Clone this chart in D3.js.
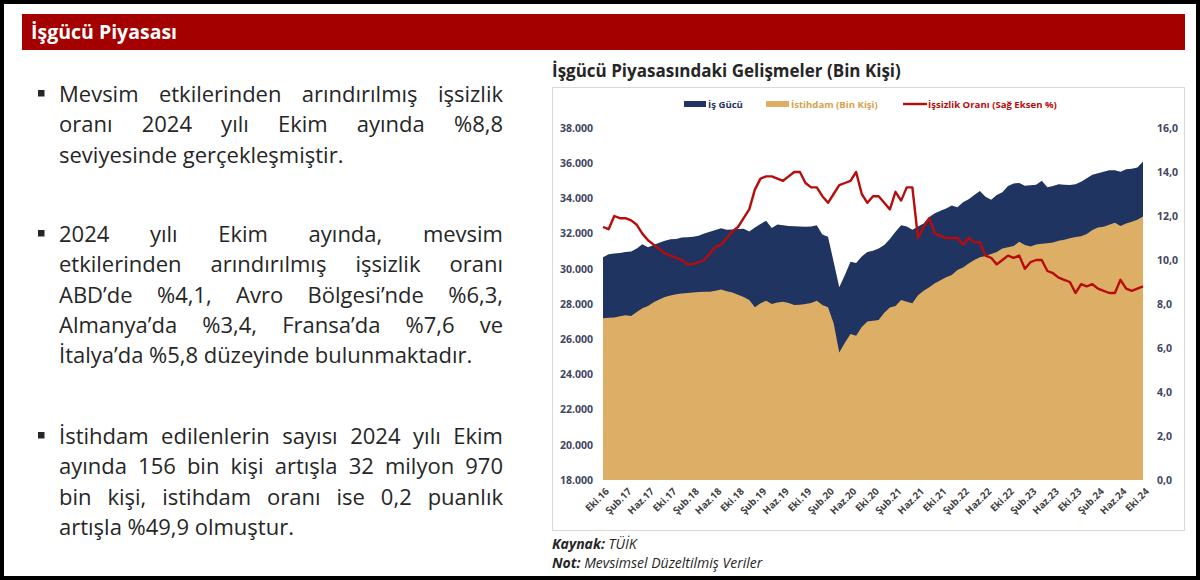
<!DOCTYPE html>
<html>
<head>
<meta charset="utf-8">
<title>İşgücü Piyasası</title>
<script src="https://d3js.org/d3.v7.min.js"></script>
<style>
  body { margin: 0; background: #fff; }
  svg { display: block; }
</style>
</head>
<body>
<div id="canvas"></div>
<script>
// aylık veriler: Eki.16 - Eki.24 (97 ay)
var tickLabels = ["Eki.16","Şub.17","Haz.17","Eki.17","Şub.18","Haz.18","Eki.18","Şub.19","Haz.19","Eki.19",
  "Şub.20","Haz.20","Eki.20","Şub.21","Haz.21","Eki.21","Şub.22","Haz.22","Eki.22","Şub.23","Haz.23",
  "Eki.23","Şub.24","Haz.24","Eki.24"];

// İş Gücü (bin kişi)
var isgucu = [30650,30830,30870,30900,30950,30980,31150,31400,31220,31350,
  31480,31600,31680,31700,31780,31790,31820,31880,32000,32100,
  32200,32300,32220,32240,32260,32280,32120,32350,32550,32730,
  32320,32520,32480,32430,32420,32400,32390,32400,32480,31950,
  31820,30400,28950,29650,30400,30330,30700,30950,31030,31150,
  31350,31700,32100,32480,32400,32220,32400,32580,32950,33150,
  33300,33420,33600,33500,33780,33950,34200,34420,34100,33920,
  34190,34350,34700,34850,34880,34720,34750,34770,35000,34640,
  34700,34800,34780,34760,34800,34950,35140,35340,35430,35520,
  35600,35600,35520,35650,35680,35750,36100];

// İstihdam (bin kişi)
var istihdam = [27190,27220,27240,27300,27360,27320,27550,27760,27880,28100,
  28250,28400,28480,28550,28600,28620,28660,28680,28690,28700,
  28750,28830,28720,28650,28520,28400,28230,27810,28040,28190,
  28000,28080,28130,28050,27950,27960,28000,28050,28190,27950,
  27820,26900,25250,25800,26300,26200,26700,27000,27050,27090,
  27500,27800,27880,28230,28130,28040,28500,28750,28950,29180,
  29350,29520,29650,29930,30080,30300,30500,30650,30730,30840,
  30950,31160,31230,31300,31540,31350,31260,31380,31420,31450,
  31490,31600,31650,31730,31800,31850,31980,32200,32350,32390,
  32500,32620,32430,32580,32680,32780,32970];

// İşsizlik oranı (%)
var issizlik = [11.5,11.4,12.0,11.9,11.9,11.8,11.6,11.2,10.9,10.7,
  10.5,10.3,10.2,10.1,10.0,9.8,9.8,9.9,10.0,10.3,
  10.6,10.7,11.0,11.3,11.5,11.9,12.3,13.2,13.7,13.8,
  13.8,13.7,13.6,13.8,14.0,14.0,13.5,13.3,13.3,12.9,
  12.6,13.0,13.4,13.5,13.6,14.0,13.0,12.6,12.9,12.9,
  12.6,12.3,13.1,12.7,13.3,13.3,11.0,11.5,11.9,11.2,
  11.1,11.0,11.0,11.0,10.7,11.0,10.8,10.8,10.2,10.1,
  9.8,10.0,10.2,10.1,10.2,9.6,9.9,10.0,10.0,9.5,
  9.4,9.2,9.1,9.0,8.5,8.9,8.8,8.9,8.7,8.6,
  8.5,8.5,9.1,8.7,8.6,8.7,8.8];

var leftTicks = [18000,20000,22000,24000,26000,28000,30000,32000,34000,36000,38000];
var rightTicks = [0,2,4,6,8,10,12,14,16];

var paragraphs = [
  ["Mevsim etkilerinden arındırılmış işsizlik",
   "oranı 2024 yılı Ekim ayında %8,8",
   "seviyesinde gerçekleşmiştir."],
  ["2024 yılı Ekim ayında, mevsim",
   "etkilerinden arındırılmış işsizlik oranı",
   "ABD’de %4,1, Avro Bölgesi’nde %6,3,",
   "Almanya’da %3,4, Fransa’da %7,6 ve",
   "İtalya’da %5,8 düzeyinde bulunmaktadır."],
  ["İstihdam edilenlerin sayısı 2024 yılı Ekim",
   "ayında 156 bin kişi artışla 32 milyon 970",
   "bin kişi, istihdam oranı ise 0,2 puanlık",
   "artışla %49,9 olmuştur."]
];

var W = 1200, H = 580;
var navy = "#1f3461", gold = "#dcae66", red = "#b80b0b";
var font = "'Open Sans', 'Noto Sans', sans-serif";

var tr = d3.formatLocale({decimal: ",", thousands: ".", grouping: [3], currency: ["", ""]});
var fmtL = tr.format(",.0f"), fmtR = tr.format(".1f");

var svg = d3.select("#canvas").append("svg")
  .attr("width", W).attr("height", H)
  .style("font-family", font);

svg.append("rect").attr("width", W).attr("height", H).attr("fill", "#fff");

// başlık bandı
svg.append("rect").attr("x", 22).attr("y", 14).attr("width", 1163).attr("height", 36).attr("fill", "#a50000");
svg.append("text").attr("x", 31).attr("y", 39)
  .attr("fill", "#fff").attr("font-size", 19.5).attr("font-weight", "bold")
  .text("İşgücü Piyasası");

// sol metin (iki yana yaslı)
var textLeft = 59, textRight = 503, lh = 30.3;
var pStarts = [102, 242, 444];
var body = svg.append("g").attr("fill", "#262626").attr("font-size", 22);
paragraphs.forEach(function(lines, p) {
  body.append("rect").attr("x", 38).attr("y", pStarts[p] - 12).attr("width", 6.5).attr("height", 6.5).attr("fill", "#262626");
  lines.forEach(function(line, li) {
    var y = pStarts[p] + li * lh;
    var words = line.split(" ");
    var t = body.append("text").attr("y", y);
    var spans = words.map(function(w) { return t.append("tspan").text(w); });
    var widths = spans.map(function(s) { return s.node().getComputedTextLength(); });
    var total = d3.sum(widths);
    var last = li === lines.length - 1;
    var gap = last || words.length < 2 ? 5.6 : (textRight - textLeft - total) / (words.length - 1);
    var x = textLeft;
    spans.forEach(function(s, k) { s.attr("x", x); x += widths[k] + gap; });
  });
});

// grafik paneli
svg.append("rect").attr("x", 552.5).attr("y", 87.5).attr("width", 632).attr("height", 443)
  .attr("fill", "#fff").attr("stroke", "#d9d9d9").attr("stroke-width", 1);
svg.append("text").attr("x", 552).attr("y", 77).attr("fill", "#262626")
  .attr("font-size", 17).attr("font-weight", "bold")
  .text("İşgücü Piyasasındaki Gelişmeler (Bin Kişi)");

var x = d3.scaleLinear().domain([0, isgucu.length - 1]).range([603, 1143]);
var yL = d3.scaleLinear().domain([18000, 38000]).range([480, 128]);
var yR = d3.scaleLinear().domain([0, 16]).range([480, 128]);

var idx = d3.range(isgucu.length);
var area = function(arr) {
  return d3.area().x(function(i) { return x(i); }).y0(yL(18000)).y1(function(i) { return yL(arr[i]); })(idx);
};
svg.append("path").attr("d", area(isgucu)).attr("fill", navy);
svg.append("path").attr("d", area(istihdam)).attr("fill", gold);
svg.append("path")
  .attr("d", d3.line().x(function(i) { return x(i); }).y(function(i) { return yR(issizlik[i]); })(idx))
  .attr("fill", "none").attr("stroke", red).attr("stroke-width", 2.4).attr("stroke-linejoin", "round");

// eksenler
var axL = svg.append("g").attr("transform", "translate(593,0)")
  .call(d3.axisLeft(yL).tickValues(leftTicks).tickFormat(fmtL).tickSize(0).tickPadding(0));
var axR = svg.append("g").attr("transform", "translate(1157,0)")
  .call(d3.axisRight(yR).tickValues(rightTicks).tickFormat(fmtR).tickSize(0).tickPadding(0));
[axL, axR].forEach(function(a) {
  a.select(".domain").remove();
  a.selectAll("text").attr("font-size", 10.5).attr("font-weight", "bold").attr("fill", "#3f4760").attr("font-family", font);
});

var tickIdx = tickLabels.map(function(d, i) { return i * 4; });
var axB = svg.append("g").attr("transform", "translate(0,480)")
  .call(d3.axisBottom(x).tickValues(tickIdx).tickFormat(function(d) { return tickLabels[d / 4]; }).tickSize(0));
axB.select(".domain").remove();
axB.selectAll("text")
  .attr("font-size", 9.8).attr("font-weight", "bold").attr("fill", "#404040").attr("font-family", font)
  .attr("text-anchor", "end").attr("dy", 0)
  .attr("transform", "translate(4,10) rotate(-45)");

// lejant
var leg = svg.append("g").attr("font-size", 9.6).attr("font-weight", "bold");
leg.append("rect").attr("x", 684).attr("y", 101).attr("width", 22).attr("height", 6).attr("fill", navy);
leg.append("text").attr("x", 708).attr("y", 107.5).attr("fill", navy).text("İş Gücü");
leg.append("rect").attr("x", 766).attr("y", 101).attr("width", 23).attr("height", 6).attr("fill", gold);
leg.append("text").attr("x", 791).attr("y", 107.5).attr("fill", "#d4a24c").text("İstihdam (Bin Kişi)");
leg.append("line").attr("x1", 903).attr("x2", 927).attr("y1", 104).attr("y2", 104).attr("stroke", red).attr("stroke-width", 2.4);
leg.append("text").attr("x", 928).attr("y", 107.5).attr("fill", red).text("İşsizlik Oranı (Sağ Eksen %)");

// kaynak
var k = svg.append("g").attr("font-size", 14).attr("font-style", "italic").attr("fill", "#262626");
var t1 = k.append("text").attr("x", 552).attr("y", 549);
t1.append("tspan").attr("font-weight", "bold").text("Kaynak:");
t1.append("tspan").text(" TÜİK");
var t2 = k.append("text").attr("x", 552).attr("y", 568);
t2.append("tspan").attr("font-weight", "bold").text("Not:");
t2.append("tspan").text(" Mevsimsel Düzeltilmiş Veriler");

// dış çerçeve
svg.append("rect").attr("x", 2).attr("y", 2).attr("width", W - 4).attr("height", H - 4)
  .attr("fill", "none").attr("stroke", "#000").attr("stroke-width", 4);
</script>
</body>
</html>
